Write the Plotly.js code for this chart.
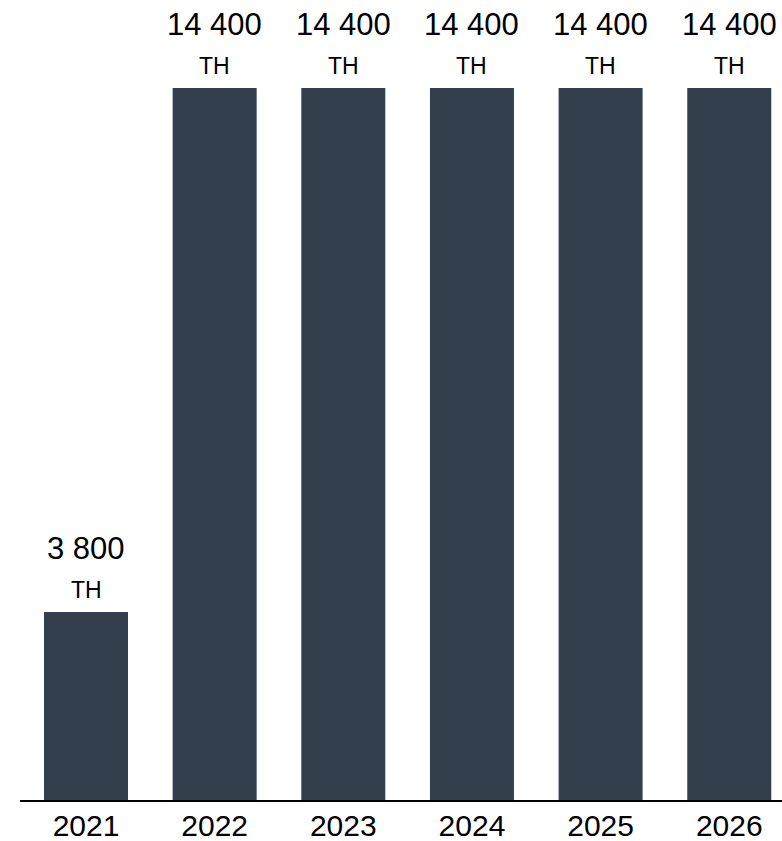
<!DOCTYPE html>
<html>
<head>
<meta charset="utf-8">
<script src="https://cdn.plot.ly/plotly-3.0.1.min.js"></script>
<style>html,body{margin:0;padding:0;background:#fff;}#chart{width:782px;height:841px;}</style>
</head>
<body>
<div id="chart"></div>
<script>
const years = ['2021', '2022', '2023', '2024', '2025', '2026'];
const values = [3800, 14400, 14400, 14400, 14400, 14400];
const valueLabels = ['3 800', '14 400', '14 400', '14 400', '14 400', '14 400'];
const unitLabel = 'TH';

const barColor = '#343f4e';
const fontFamily = 'Liberation Sans, Arial, sans-serif';

const trace = {
  type: 'bar',
  x: years,
  y: values,
  width: years.map(() => 0.653),
  marker: {color: barColor},
  hoverinfo: 'none'
};

const annotations = [];
for (let i = 0; i < years.length; i++) {
  annotations.push({
    x: i, y: values[i], xref: 'x', yref: 'y',
    text: valueLabels[i], showarrow: false,
    xanchor: 'center', yanchor: 'middle', yshift: 64,
    font: {family: fontFamily, size: 31, color: '#000000'}
  });
  annotations.push({
    x: i, y: values[i], xref: 'x', yref: 'y',
    text: unitLabel, showarrow: false,
    xanchor: 'center', yanchor: 'middle', yshift: 22,
    font: {family: fontFamily, size: 23, color: '#000000'}
  });
}

const layout = {
  width: 782, height: 841,
  margin: {l: 20, r: 0, t: 0, b: 41},
  paper_bgcolor: '#fff', plot_bgcolor: '#fff',
  showlegend: false,
  xaxis: {
    type: 'category',
    range: [-0.513, 5.41],
    showline: true, linecolor: '#000', linewidth: 2,
    ticks: '', showgrid: false, zeroline: false,
    tickfont: {family: fontFamily, size: 30, color: '#000'},
    ticklabelstandoff: -2
  },
  yaxis: {
    range: [0, 16180],
    visible: false, showgrid: false, zeroline: false
  },
  annotations: annotations
};

Plotly.newPlot('chart', [trace], layout, {displayModeBar: false}).catch(e => {
  document.body.insertAdjacentHTML('beforeend', '<pre>' + e + '</pre>');
});
</script>
</body>
</html>
